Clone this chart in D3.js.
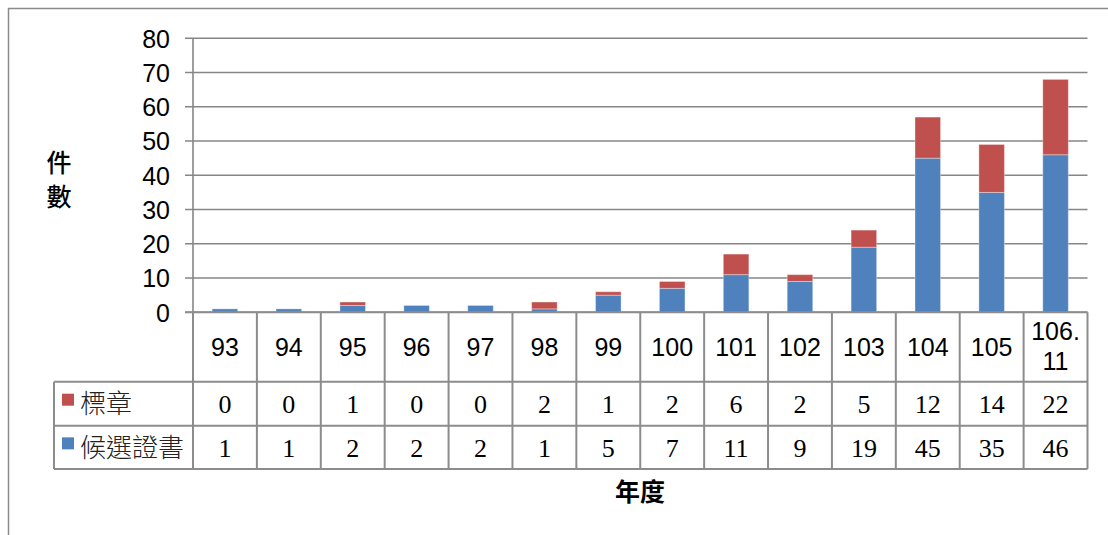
<!DOCTYPE html>
<html>
<head>
<meta charset="utf-8">
<script src="https://cdn.jsdelivr.net/npm/d3@7"></script>
<style>
  html, body { margin: 0; padding: 0; background: #fff; }
  svg { display: block; }
</style>
</head>
<body>
<svg id="chart" width="1108" height="535"></svg>
<script>
// ---- data ----
const categories = ["93","94","95","96","97","98","99","100","101","102","103","104","105","106.11"];
const seriesNames = ["標章", "候選證書"];
const badgeValues = [0,0,1,0,0,2,1,2,6,2,5,12,14,22];
const certValues  = [1,1,2,2,2,1,5,7,11,9,19,45,35,46];
const yTicks = [0,10,20,30,40,50,60,70,80];
const yAxisTitle = ["件", "數"];
const xAxisTitle = "年度";
const colors = { "標章": "#C0504D", "候選證書": "#4F81BD" };

// ---- layout ----
const svg = d3.select("#chart");
const plotLeft = 193, plotRight = 1087.5, plotTop = 38.3, plotBottom = 312.3;
const rowBottoms = [381.7, 425.7, 469];
const legendLeft = 54;
const gridColor = "#868686";
const tableColor = "#8c8c8c";

// outer frame
svg.append("rect").attr("x", 8.5).attr("y", 8.5).attr("width", 1300).attr("height", 700)
  .attr("fill", "none").attr("stroke", "#8a8a8a").attr("stroke-width", 1.5);

const x = d3.scaleBand().domain(categories).range([plotLeft, plotRight]).padding(0);
const xBar = d3.scaleBand().domain(categories).range([plotLeft, plotRight]).paddingInner(0.6).paddingOuter(0.3);
const y = d3.scaleLinear().domain([0, 80]).range([plotBottom, plotTop]);

// gridlines
svg.append("g").selectAll("line").data(yTicks).join("line")
  .attr("x1", plotLeft - 8).attr("x2", plotRight)
  .attr("y1", d => y(d)).attr("y2", d => y(d))
  .attr("stroke", gridColor).attr("stroke-width", 1.6);

// y axis labels
const yAxis = d3.axisLeft(y).tickValues(yTicks).tickSize(0).tickPadding(0);
const gy = svg.append("g").attr("transform", `translate(${plotLeft - 23},0)`).call(yAxis);
gy.select(".domain").remove();
gy.selectAll("text").attr("font-family", "'Liberation Sans', Arial, sans-serif")
  .attr("font-size", 25).attr("fill", "#000").attr("dy", "0.35em");

// stacked bars
const stackData = categories.map((c, i) => ({ cat: c, "候選證書": certValues[i], "標章": badgeValues[i] }));
const stack = d3.stack().keys(["候選證書", "標章"])(stackData);
svg.append("g").selectAll("g").data(stack).join("g")
  .attr("fill", d => colors[d.key])
  .selectAll("rect").data(d => d).join("rect")
  .attr("x", d => xBar(d.data.cat))
  .attr("width", xBar.bandwidth())
  .attr("y", d => y(d[1]))
  .attr("height", d => Math.max(0, y(d[0]) - y(d[1])))
  .attr("stroke", "rgba(255,255,255,0.35)").attr("stroke-width", 1);

// y axis line
svg.append("line").attr("x1", plotLeft).attr("x2", plotLeft).attr("y1", plotTop).attr("y2", plotBottom)
  .attr("stroke", gridColor).attr("stroke-width", 1.6);

// ---- data table ----
const tbl = svg.append("g").attr("stroke", tableColor).attr("stroke-width", 2).attr("fill", "none");
// vertical lines at category boundaries
const bounds = categories.map(c => x(c)).concat([plotRight]);
tbl.selectAll("line.v").data(bounds).join("line").attr("class", "v")
  .attr("x1", d => d).attr("x2", d => d).attr("y1", plotBottom).attr("y2", rowBottoms[2]);
// horizontal lines
tbl.append("line").attr("x1", plotLeft - 8).attr("x2", plotRight).attr("y1", plotBottom).attr("y2", plotBottom);
tbl.append("line").attr("x1", legendLeft).attr("x2", plotRight).attr("y1", rowBottoms[0]).attr("y2", rowBottoms[0]);
tbl.append("line").attr("x1", legendLeft).attr("x2", plotRight).attr("y1", rowBottoms[1]).attr("y2", rowBottoms[1]);
tbl.append("line").attr("x1", legendLeft).attr("x2", plotRight).attr("y1", rowBottoms[2]).attr("y2", rowBottoms[2]);
tbl.append("line").attr("x1", legendLeft).attr("x2", legendLeft).attr("y1", rowBottoms[0]).attr("y2", rowBottoms[2]);

// category header labels
const headG = svg.append("g");
categories.forEach(c => {
  const cx = x(c) + x.bandwidth() / 2;
  const lines = c === "106.11" ? ["106.", "11"] : [c];
  const t = headG.append("text").attr("x", cx).attr("text-anchor", "middle")
    .attr("font-family", "'Liberation Sans', Arial, sans-serif").attr("font-size", 25).attr("fill", "#000");
  if (lines.length === 1) {
    t.attr("y", (plotBottom + rowBottoms[0]) / 2).attr("dy", "0.36em").text(c);
  } else {
    t.append("tspan").attr("x", cx).attr("y", 331).attr("dy", "0.36em").text(lines[0]);
    t.append("tspan").attr("x", cx).attr("y", 361).attr("dy", "0.36em").text(lines[1]);
  }
});

// value rows
const rows = [
  { name: "標章", values: badgeValues, yc: (rowBottoms[0] + rowBottoms[1]) / 2 },
  { name: "候選證書", values: certValues, yc: (rowBottoms[1] + rowBottoms[2]) / 2 }
];
rows.forEach(r => {
  svg.append("g").selectAll("text").data(r.values).join("text")
    .attr("x", (d, i) => x(categories[i]) + x.bandwidth() / 2)
    .attr("y", r.yc).attr("dy", "0.36em").attr("text-anchor", "middle")
    .attr("font-family", "'Liberation Serif', 'Times New Roman', serif").attr("font-size", 26)
    .attr("fill", "#000").text(d => d);
  svg.append("rect").attr("x", 62).attr("y", r.yc - 10).attr("width", 12).attr("height", 12)
    .attr("fill", colors[r.name]);
  svg.append("text").attr("x", 80).attr("y", r.yc).attr("dy", "0.36em")
    .attr("font-family", "'Noto Sans CJK TC', sans-serif").attr("font-size", 26).attr("font-weight", 300)
    .attr("fill", "#222").text(r.name);
});

// axis titles
svg.append("g").selectAll("text").data(yAxisTitle).join("text")
  .attr("x", 59).attr("y", (d, i) => 163 + i * 34).attr("dy", "0.36em").attr("text-anchor", "middle")
  .attr("font-family", "'Noto Sans CJK TC', sans-serif").attr("font-size", 25).attr("font-weight", 500)
  .attr("fill", "#000").text(d => d);
svg.append("text").attr("x", 640).attr("y", 492).attr("dy", "0.36em").attr("text-anchor", "middle")
  .attr("font-family", "'Noto Sans CJK TC', sans-serif").attr("font-size", 25).attr("font-weight", 700)
  .attr("fill", "#000").text(xAxisTitle);
</script>
</body>
</html>
